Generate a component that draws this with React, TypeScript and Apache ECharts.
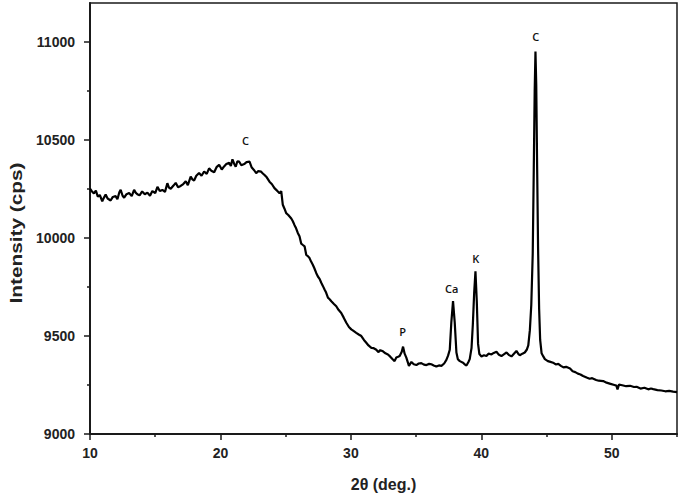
import React, { useEffect, useRef } from "react";
import * as echarts from "echarts";

// XRD pattern: [2θ (deg.), intensity (cps)]
const amorphousHump: [number, number][] = [
  [10.0, 10252], [10.15, 10238], [10.3, 10228], [10.45, 10242], [10.6, 10212], [10.75, 10220],
  [10.94, 10188], [11.05, 10204], [11.2, 10222], [11.35, 10202], [11.58, 10192], [11.75, 10210],
  [11.96, 10214], [12.1, 10198], [12.25, 10234], [12.35, 10246], [12.5, 10216], [12.62, 10206],
  [12.8, 10224], [13.0, 10230], [13.2, 10214], [13.38, 10246], [13.5, 10232], [13.63, 10224],
  [13.8, 10218], [14.0, 10238], [14.2, 10224], [14.4, 10232], [14.6, 10216], [14.78, 10240],
  [15.0, 10230], [15.17, 10262], [15.35, 10240], [15.55, 10246], [15.75, 10236], [15.93, 10280],
  [16.05, 10258], [16.19, 10252], [16.4, 10268], [16.57, 10282], [16.75, 10260], [16.95, 10266],
  [17.15, 10276], [17.34, 10290], [17.5, 10270], [17.72, 10314], [17.85, 10300], [17.98, 10294],
  [18.15, 10318], [18.36, 10332], [18.55, 10318], [18.75, 10340], [18.95, 10328], [19.13, 10356],
  [19.3, 10344], [19.52, 10336], [19.7, 10362], [19.9, 10374], [20.1, 10350], [20.28, 10366],
  [20.45, 10378], [20.67, 10384], [20.8, 10368], [20.92, 10402], [21.05, 10380], [21.17, 10364],
  [21.3, 10392], [21.44, 10390], [21.6, 10372], [21.82, 10378], [22.0, 10388], [22.23, 10390],
];

const decline: [number, number][] = [
  [22.4, 10360], [22.6, 10345], [22.74, 10331], [22.9, 10342], [23.12, 10339], [23.25, 10330],
  [23.38, 10322], [23.55, 10310], [23.76, 10288], [23.95, 10275], [24.14, 10255], [24.28, 10246],
  [24.4, 10238], [24.53, 10229], [24.66, 10240], [24.78, 10170], [24.91, 10150], [25.04, 10127],
  [25.2, 10118], [25.43, 10100], [25.55, 10086], [25.68, 10066], [25.8, 10050], [25.93, 10026],
  [26.06, 10009], [26.19, 9972], [26.3, 9966], [26.45, 9958], [26.58, 9914], [26.7, 9908],
  [26.83, 9898], [26.95, 9880], [27.08, 9864], [27.2, 9846], [27.34, 9822], [27.47, 9804],
  [27.6, 9792], [27.73, 9772], [27.85, 9756], [27.98, 9738], [28.1, 9722], [28.24, 9696],
  [28.37, 9688], [28.5, 9678], [28.7, 9664], [28.88, 9652], [29.05, 9634], [29.26, 9618],
  [29.45, 9594], [29.65, 9568], [29.85, 9546], [30.03, 9534], [30.2, 9526], [30.41, 9516],
  [30.6, 9508], [30.8, 9500], [31.0, 9480], [31.18, 9466], [31.35, 9452], [31.57, 9440],
  [31.75, 9438], [31.95, 9430], [32.1, 9418], [32.25, 9428], [32.46, 9422], [32.65, 9412],
  [32.84, 9406], [33.0, 9396], [33.22, 9380], [33.35, 9372], [33.48, 9390], [33.62, 9394],
  [33.74, 9398],
];

const crystallinePeaks: [number, number][] = [
  [33.9, 9420], [34.0, 9446], [34.12, 9410], [34.25, 9390], [34.45, 9348], [34.64, 9368],
  [34.82, 9356], [35.02, 9352], [35.2, 9360], [35.4, 9362], [35.6, 9354], [35.79, 9352],
  [36.0, 9358], [36.17, 9356], [36.35, 9350], [36.55, 9344], [36.75, 9350], [36.94, 9348],
  [37.15, 9360], [37.32, 9378], [37.45, 9400], [37.58, 9430], [37.7, 9570], [37.83, 9678],
  [37.96, 9570], [38.09, 9416], [38.2, 9382], [38.35, 9372], [38.6, 9364], [38.75, 9354],
  [38.86, 9350], [39.0, 9366], [39.11, 9382], [39.25, 9440], [39.35, 9560], [39.45, 9720],
  [39.55, 9830], [39.65, 9680], [39.75, 9460], [39.85, 9408], [40.01, 9396], [40.2, 9402],
  [40.39, 9398], [40.55, 9410], [40.78, 9406], [40.95, 9414], [41.16, 9420], [41.35, 9404],
  [41.54, 9398], [41.75, 9408], [41.93, 9416], [42.1, 9404], [42.31, 9396], [42.5, 9410],
  [42.69, 9424], [42.85, 9408], [42.95, 9402], [43.15, 9410], [43.33, 9416], [43.48, 9430],
  [43.6, 9452], [43.72, 9530], [43.83, 9660], [43.94, 9920], [44.02, 10350], [44.09, 10750],
  [44.15, 10952], [44.21, 10780], [44.28, 10350], [44.35, 9950], [44.43, 9640], [44.51, 9480],
  [44.62, 9412], [44.75, 9396],
];

const tail: [number, number][] = [
  [44.87, 9382], [45.1, 9372], [45.3, 9368], [45.5, 9364], [45.7, 9355], [45.9, 9358],
  [46.1, 9348], [46.3, 9340], [46.5, 9343], [46.8, 9334], [47.0, 9320], [47.2, 9316],
  [47.4, 9308], [47.6, 9304], [47.8, 9296], [48.07, 9288], [48.3, 9282], [48.5, 9285],
  [48.8, 9276], [49.0, 9272], [49.34, 9270], [49.6, 9262], [49.9, 9256], [50.2, 9250],
  [50.35, 9247], [50.44, 9228], [50.55, 9252], [50.8, 9249], [51.1, 9244], [51.4, 9246],
  [51.7, 9240], [51.9, 9241], [52.2, 9232], [52.5, 9236], [52.8, 9228], [53.0, 9232],
  [53.18, 9229], [53.5, 9224], [53.8, 9222], [54.1, 9218], [54.4, 9220], [54.7, 9216],
  [55.0, 9214],
];

// Peak annotations
const peakLabels = ["C", "P", "Ca", "K", "C"];
const peakX = [21.92, 33.97, 37.73, 39.57, 44.18];
const peakY = [10500, 9525, 9743, 9898, 11030];

// Axis ticks
const xMajorTicks = [10, 20, 30, 40, 50];
const xMinorTicks = [15, 25, 35, 45, 55];
const yMajorTicks = [9000, 9500, 10000, 10500, 11000];
const yMinorTicks = [9250, 9750, 10250, 10750];

const X_MIN = 10;
const X_MAX = 55;
const Y_MIN = 9000;
const Y_MAX = 11200;

const INK = "#1a1a1a";
const LABEL_FONT = "'Liberation Sans', Arial, sans-serif";

export default function App() {
  const ref = useRef<HTMLDivElement>(null);

  useEffect(() => {
    if (!ref.current) return;
    const chart = echarts.init(ref.current, undefined, { renderer: "svg" });
    const pattern = [...amorphousHump, ...decline, ...crystallinePeaks, ...tail];

    const tickLabel = {
      fontFamily: LABEL_FONT,
      fontWeight: "bold" as const,
      fontSize: 14,
      color: "#222",
    };

    chart.setOption({
      animation: false,
      backgroundColor: "#ffffff",
      grid: {
        left: 90,
        right: 3,
        top: 3,
        bottom: 62,
        show: true,
        borderColor: INK,
        borderWidth: 1.5,
        backgroundColor: "transparent",
      },
      xAxis: [
        {
          type: "value",
          min: X_MIN,
          max: X_MAX,
          interval: 10,
          position: "bottom",
          axisLine: { show: true, onZero: false, lineStyle: { color: INK, width: 2 } },
          axisTick: { show: true, length: 6, customValues: xMajorTicks, lineStyle: { color: INK, width: 1.5 } },
          axisLabel: { ...tickLabel, margin: 12, customValues: xMajorTicks, formatter: (v: number) => String(v) },
          splitLine: { show: false },
          name: "2θ (deg.)",
          nameLocation: "middle",
          nameGap: 42,
          nameTextStyle: { fontFamily: LABEL_FONT, fontWeight: "bold", fontSize: 16, color: "#222" },
        },
        {
          type: "value",
          min: X_MIN,
          max: X_MAX,
          interval: 10,
          position: "bottom",
          axisLine: { show: false },
          axisTick: { show: true, length: 3, customValues: xMinorTicks, lineStyle: { color: INK, width: 1.5 } },
          axisLabel: { show: false },
          splitLine: { show: false },
        },
      ],
      yAxis: [
        {
          type: "value",
          min: Y_MIN,
          max: Y_MAX,
          interval: 500,
          position: "left",
          axisLine: { show: true, onZero: false, lineStyle: { color: INK, width: 2 } },
          axisTick: { show: true, length: 6, customValues: yMajorTicks, lineStyle: { color: INK, width: 1.5 } },
          axisLabel: { ...tickLabel, margin: 15, customValues: yMajorTicks, formatter: (v: number) => String(v) },
          splitLine: { show: false },
        },
        {
          type: "value",
          min: Y_MIN,
          max: Y_MAX,
          interval: 500,
          position: "left",
          axisLine: { show: false },
          axisTick: { show: true, length: 3, customValues: yMinorTicks, lineStyle: { color: INK, width: 1.5 } },
          axisLabel: { show: false },
          splitLine: { show: false },
        },
      ],
      graphic: [
        {
          type: "text",
          x: 16,
          y: 233,
          rotation: Math.PI / 2,
          scaleX: 1.3,
          style: {
            text: "Intensity (cps)",
            font: `bold 16px ${LABEL_FONT}`,
            fill: "#222",
            align: "center",
            verticalAlign: "middle",
          },
        },
      ],
      series: [
        {
          type: "line",
          data: pattern,
          xAxisIndex: 0,
          yAxisIndex: 0,
          showSymbol: false,
          symbol: "none",
          lineStyle: { color: "#000", width: 2.2 },
          silent: true,
        },
        {
          type: "scatter",
          xAxisIndex: 0,
          yAxisIndex: 0,
          data: peakX.map((x, i) => [x, peakY[i]]),
          symbolSize: 1,
          itemStyle: { color: "#000", opacity: 0 },
          label: {
            show: true,
            position: ["50%", "50%"],
            align: "center",
            verticalAlign: "middle",
            formatter: (p: any) => peakLabels[p.dataIndex],
            fontFamily: "'Open Sans', sans-serif",
            fontWeight: 600,
            fontSize: 11,
            color: "#111",
            opacity: 1,
          },
          silent: true,
        },
      ],
    });

    return () => chart.dispose();
  }, []);

  return <div ref={ref} style={{ width: 680, height: 497, position: "absolute", left: 0, top: 0 }} />;
}
